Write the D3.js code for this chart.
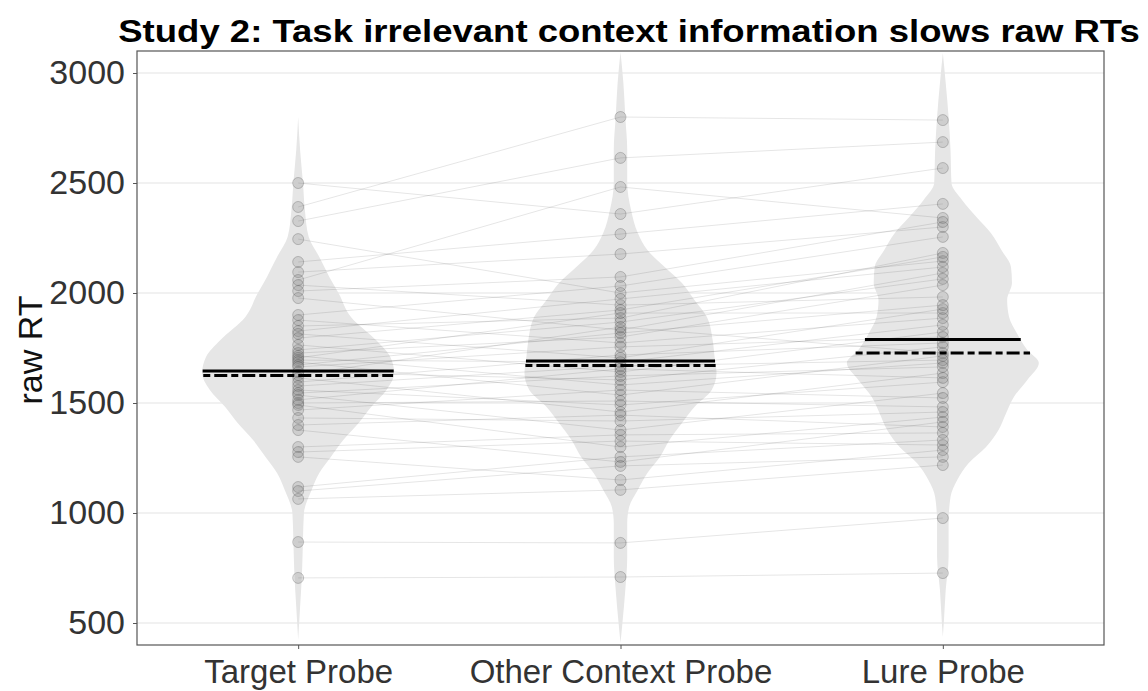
<!DOCTYPE html>
<html>
<head>
<meta charset="utf-8">
<title>Study 2 raw RTs</title>
<script src="https://d3js.org/d3.v7.min.js"></script>
<style>
  body { margin: 0; background: #fff; }
  text { font-family: "Liberation Sans", Arial, sans-serif; }
</style>
</head>
<body>
<script>
// conditions
var conditions = ["Target Probe", "Other Context Probe", "Lure Probe"];

// per-participant raw RTs (same participant at same index)
var targetRT = [2500, 2391, 2327, 2245, 2141, 2095, 2059, 2036, 2009, 1977,
  1900, 1877, 1850, 1827, 1814, 1795, 1764, 1741, 1727, 1714,
  1705, 1695, 1686, 1673, 1664, 1641, 1627, 1614, 1595, 1577,
  1559, 1545, 1536, 1514, 1500, 1491, 1468, 1432, 1400, 1377,
  1300, 1277, 1255, 1118, 1100, 1064, 868, 705];
var otherRT = [2359, 2800, 2614, 2000, 2268, 2177, 2482, 1945, 2073, 1832,
  2032, 1773, 1886, 1973, 1705, 1923, 1641, 1868, 1800, 1582,
  1909, 1686, 1536, 1818, 1755, 1605, 1845, 1459, 1718, 1668,
  1491, 1623, 1377, 1655, 1509, 1300, 1559, 1418, 1445, 1232,
  1355, 1327, 1150, 1255, 1214, 1105, 864, 709];
var lureRT = [2568, 2786, 2686, 2145, 2405, 2300, 2341, 1982, 2323, 2091,
  2255, 1886, 2182, 2118, 1927, 2164, 1823, 2064, 2036, 1682,
  1909, 1855, 1714, 1945, 1800, 1755, 1727, 1636, 1773, 1695,
  1595, 1664, 1545, 1614, 1482, 1436, 1523, 1459, 1391, 1414,
  1364, 1309, 1286, 1332, 1255, 1218, 977, 727];

// violin outlines: [rt, relative density]
var targetDens = [[2800,0],[2650,.02],[2500,.05],[2377,.07],[2255,.11],[2164,.22],[2045,.36],[2000,.42],
  [1891,.55],[1786,.81],[1709,.96],[1636,1],[1559,.92],[1482,.76],[1409,.63],[1332,.47],[1255,.34],
  [1182,.22],[1105,.14],[1000,.06],[877,.05],[727,.04],[573,.02],[423,0]];
var otherDens = [[3095,0],[2955,.03],[2800,.05],[2650,.07],[2500,.07],[2377,.11],[2273,.18],[2195,.28],
  [2118,.46],[2045,.64],[1968,.77],[1891,.9],[1786,.96],[1709,.98],[1636,1],[1559,.95],[1482,.77],
  [1409,.64],[1332,.51],[1255,.41],[1182,.28],[1105,.18],[1027,.09],[955,.07],[800,.07],[650,.05],
  [500,.02],[409,0]];
var lureDens = [[3091,0],[2955,.03],[2800,.06],[2650,.08],[2500,.09],[2423,.2],[2345,.35],[2273,.5],
  [2195,.61],[2118,.71],[2045,.72],[1968,.67],[1891,.69],[1818,.77],[1741,.88],[1682,1],[1605,.88],
  [1527,.74],[1455,.66],[1377,.58],[1300,.45],[1227,.27],[1150,.15],[1073,.08],[955,.06],[800,.06],
  [650,.03],[500,.01],[436,0]];

// summary lines
var meanRT = [1645, 1691, 1789];
var medianRT = [1625, 1670, 1727];

var yTicks = [500, 1000, 1500, 2000, 2500, 3000];

var W = 1148, H = 691;
var margin = {top: 51, right: 44, bottom: 46, left: 137};

var svg = d3.select("body").append("svg")
  .attr("width", W).attr("height", H);

var x = d3.scalePoint().domain(conditions)
  .range([margin.left, W - margin.right]).padding(0.5);
var y = d3.scaleLinear().domain([500, 3000]).range([623, 73]);
var wScale = d3.scaleLinear().domain([0, 1]).range([0, 96]);

svg.append("clipPath").attr("id", "panel")
  .append("rect")
  .attr("x", margin.left).attr("y", margin.top)
  .attr("width", W - margin.right - margin.left)
  .attr("height", H - margin.bottom - margin.top);

// grid
svg.append("g").selectAll("line").data(yTicks).enter().append("line")
  .attr("x1", margin.left).attr("x2", W - margin.right)
  .attr("y1", function (d) { return y(d); })
  .attr("y2", function (d) { return y(d); })
  .attr("stroke", "#e3e3e3").attr("stroke-width", 1);

var plot = svg.append("g").attr("clip-path", "url(#panel)");

var dens = [targetDens, otherDens, lureDens];
var rts = [targetRT, otherRT, lureRT];

// violins
dens.forEach(function (profile, i) {
  var cx = x(conditions[i]);
  var area = d3.area()
    .y(function (d) { return y(d[0]); })
    .x0(function (d) { return cx - wScale(d[1]); })
    .x1(function (d) { return cx + wScale(d[1]); })
    .curve(d3.curveMonotoneY);
  plot.append("path").datum(profile)
    .attr("d", area)
    .attr("fill", "#e6e6e6");
});

// participant lines
var participants = d3.range(targetRT.length).map(function (k) {
  return rts.map(function (arr, i) { return [conditions[i], arr[k]]; });
});
var line = d3.line()
  .x(function (d) { return x(d[0]); })
  .y(function (d) { return y(d[1]); });
plot.append("g").selectAll("path").data(participants).enter().append("path")
  .attr("d", line)
  .attr("fill", "none")
  .attr("stroke", "#000")
  .attr("stroke-opacity", 0.1)
  .attr("stroke-width", 1);

// points
rts.forEach(function (arr, i) {
  plot.append("g").selectAll("circle").data(arr).enter().append("circle")
    .attr("cx", x(conditions[i]))
    .attr("cy", function (d) { return y(d); })
    .attr("r", 5.5)
    .attr("fill", "#7a7a7a").attr("fill-opacity", 0.22)
    .attr("stroke", "#333").attr("stroke-opacity", 0.25)
    .attr("stroke-width", 1);
});

// half width of a violin at a given rt
function halfWidth(profile, v) {
  for (var k = 0; k < profile.length - 1; k++) {
    var a = profile[k], b = profile[k + 1];
    if (v <= a[0] && v >= b[0]) {
      var t = (a[0] - v) / (a[0] - b[0]);
      return wScale(a[1] + t * (b[1] - a[1]));
    }
  }
  return 0;
}

// mean (solid) and median (dashed) lines
conditions.forEach(function (c, i) {
  var cx = x(c);
  var hm = halfWidth(dens[i], meanRT[i]);
  var hd = halfWidth(dens[i], medianRT[i]);
  plot.append("line")
    .attr("x1", cx - hm).attr("x2", cx + hm)
    .attr("y1", y(meanRT[i])).attr("y2", y(meanRT[i]))
    .attr("stroke", "#000").attr("stroke-width", 3);
  plot.append("line")
    .attr("x1", cx - hd).attr("x2", cx + hd)
    .attr("y1", y(medianRT[i])).attr("y2", y(medianRT[i]))
    .attr("stroke", "#000").attr("stroke-width", 3)
    .attr("stroke-dasharray", "7,4,13,4");
});

// panel border
svg.append("rect")
  .attr("x", margin.left).attr("y", margin.top)
  .attr("width", W - margin.right - margin.left)
  .attr("height", H - margin.bottom - margin.top)
  .attr("fill", "none").attr("stroke", "#555").attr("stroke-width", 1.2);

// y axis
var yAxis = svg.append("g")
  .attr("transform", "translate(" + margin.left + ",0)")
  .call(d3.axisLeft(y).tickValues(yTicks).tickFormat(d3.format("d"))
    .tickSize(4).tickPadding(8));
yAxis.select(".domain").remove();
yAxis.selectAll("line").attr("stroke", "#555");
yAxis.selectAll("text")
  .attr("fill", "#333")
  .style("font-size", "34px")
  .style("font-family", "'Liberation Sans', Arial, sans-serif");

// x axis
var xAxis = svg.append("g")
  .attr("transform", "translate(0," + (H - margin.bottom) + ")")
  .call(d3.axisBottom(x).tickSize(4).tickPadding(11));
xAxis.select(".domain").remove();
xAxis.selectAll("line").attr("stroke", "#555");
xAxis.selectAll("text")
  .attr("fill", "#333")
  .style("font-size", "33px")
  .style("font-family", "'Liberation Sans', Arial, sans-serif");

// axis title
svg.append("text")
  .attr("transform", "translate(42,350) rotate(-90)")
  .attr("text-anchor", "middle")
  .style("font-size", "34px")
  .attr("fill", "#111")
  .text("raw RT");

// title, stretched to the width it takes in the original
var title = svg.append("text")
  .attr("text-anchor", "middle")
  .style("font-size", "32px")
  .style("font-weight", "bold")
  .attr("fill", "#000")
  .text("Study 2: Task irrelevant context information slows raw RTs");
var tw = title.node().getComputedTextLength();
title.attr("transform", "translate(629,42) scale(" + (1022 / tw) + ",1)");
</script>
</body>
</html>
